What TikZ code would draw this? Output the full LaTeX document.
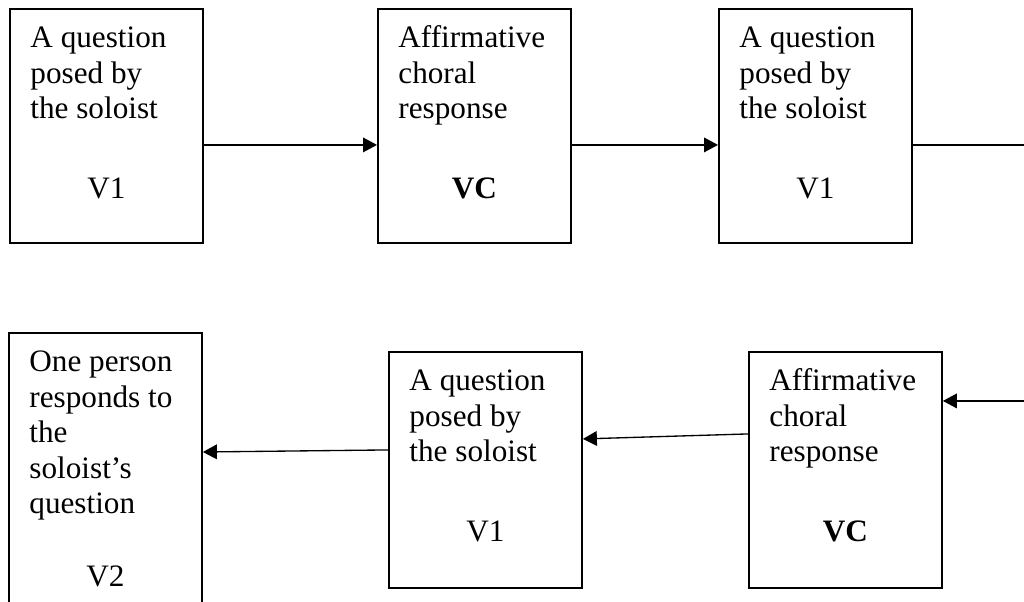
\documentclass[tikz,border=0pt]{standalone}
\usepackage{fontspec}
\setmainfont{Liberation Serif}
\usetikzlibrary{arrows.meta}
\newcommand{\boxlines}[4][33.4pt]{\begin{minipage}[c][#2][t]{114pt}\raggedright\strut #3\par\vspace{#1}\centering #4\end{minipage}}

\begin{document}
\begin{tikzpicture}[x=0.75pt,y=-0.75pt,
    >={Triangle[length=10.5pt,width=11pt]},
    stage/.style={draw,line width=1.4pt,rectangle,anchor=north west,inner xsep=15pt,inner ysep=10.5pt,
      minimum width=144.75pt,font=\fontsize{23.4}{26.6}\selectfont},
    link/.style={line width=1pt}]
    \path[use as bounding box,clip] (0,0) rectangle (1024,602);
    \node[stage] (q1) at (9,8) {\boxlines{154.5pt}{A question\\posed by\\the soloist}{V1}};
    \node[stage] (c1) at (377,8) {\boxlines{154.5pt}{Affirmative\\choral\\response}{\textbf{VC}}};
    \node[stage] (q2) at (718,8) {\boxlines{154.5pt}{A question\\posed by\\the soloist}{V1}};
    \node[stage] (c2) at (748,351) {\boxlines{156pt}{Affirmative\\choral\\response}{\textbf{VC}}};
    \node[stage] (q3) at (388,351) {\boxlines{156pt}{A question\\posed by\\the soloist}{V1}};
    \node[stage] (v2) at (8,332) {\boxlines[28pt]{204pt}{One person\\responds to\\the\\soloist’s\\question}{V2}};
    \path ([yshift=-14.25pt]q2.east) coordinate (q2out) ([yshift=51.75pt]c2.east) coordinate (c2in);
    \coordinate (out) at (q2out -| 1030,0);
    \coordinate (in) at (c2in -| 1030,0);
    \draw[link,->] ([yshift=-14.25pt]q1.east) -- ([yshift=-14.25pt]c1.west);
    \draw[link,->] ([yshift=-14.25pt]c1.east) -- ([yshift=-14.25pt]q2.west);
    \draw[link] (q2out) -- (out);
    \draw[link,->] (in) -- (c2in);
    \draw[link,->] ([yshift=27pt]c2.west) -- ([yshift=23.25pt]q3.east);
    \draw[link,->] ([yshift=15pt]q3.west) -- ([yshift=-90pt]v2.north east);
\end{tikzpicture}
\end{document}
